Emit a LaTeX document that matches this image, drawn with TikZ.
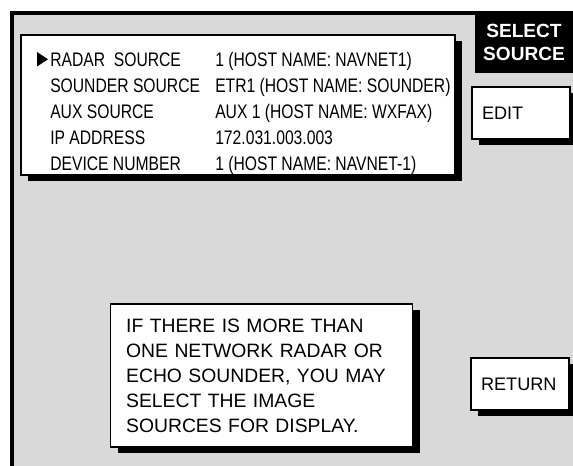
\documentclass[tikz,border=0pt]{standalone}
\usepackage{fontspec}
\setmainfont{Liberation Sans}
\newfontfamily\narrowfont{Liberation Sans}[FakeStretch=0.8]
\usetikzlibrary{shadows}
\definecolor{ScreenGray}{HTML}{D9D9D9}

\begin{document}
\begin{tikzpicture}[
            x=0.75pt, y=-0.75pt,
            panel/.style={draw=black, line width=0.8pt, fill=white, drop shadow={opacity=1, fill=black, shadow xshift=5.5pt, shadow yshift=-4.5pt}},
            item/.style={anchor=base west, inner sep=0pt, font=\narrowfont\fontsize{14.7}{17}\selectfont},
            softkey/.style={panel, minimum width=73.5pt, minimum height=39pt, text width=58.5pt, inner xsep=7.5pt, align=left, font=\fontsize{13.6}{16}\selectfont},
            title/.style={fill=black, text=white, minimum width=73.5pt, minimum height=45.75pt, inner sep=0pt, align=center, font=\bfseries\fontsize{14.3}{17.6}\selectfont}
        ]
            \useasboundingbox[fill=white] (0,0) rectangle (573,466);
            % screen
            \fill[ScreenGray] (11,12) rectangle (573,466);
            \draw[line width=2.4pt] (12,466) |- (573,13);

            % source list
            \node[panel, minimum width=325.5pt, minimum height=105pt, inner sep=0pt] (srcpanel) at (238,105) {};
            \fill (37,52) -- (48,59.3) -- (37,66.5) -- cycle;
            \node[item] (radar) at (50,66.5) {RADAR~~SOURCE};
            \node[item] (radarval) at (215,66.5) {1 (HOST NAME: NAVNET1)};
            \node[item] (sounder) at (50,92.5) {SOUNDER SOURCE};
            \node[item] (sounderval) at (215,92.5) {ETR1 (HOST NAME: SOUNDER)};
            \node[item] (aux) at (50,118.5) {AUX SOURCE};
            \node[item] (auxval) at (215,118.5) {AUX 1 (HOST NAME: WXFAX)};
            \node[item] (ip) at (50,144.5) {IP ADDRESS};
            \node[item] (ipval) at (215,144.5) {172.031.003.003};
            \node[item] (device) at (50,170.5) {DEVICE NUMBER};
            \node[item] (deviceval) at (215,170.5) {1 (HOST NAME: NAVNET-1)};

            % soft keys
            \node[title] (select) at (524,42.5) {SELECT\\SOURCE};
            \node[softkey] (edit) at (521,113) {EDIT};
            \node[softkey] (return) at (520,384) {RETURN};

            % hint
            \node[panel, text width=203pt, inner xsep=12pt, minimum height=107.25pt, align=left, font=\fontsize{14.5}{18.75}\selectfont] (hint) at (261.5,375.5) {IF THERE IS MORE THAN\\ONE NETWORK RADAR OR\\ECHO SOUNDER, YOU MAY\\SELECT THE IMAGE\\SOURCES FOR DISPLAY.};
        \end{tikzpicture}
\end{document}
